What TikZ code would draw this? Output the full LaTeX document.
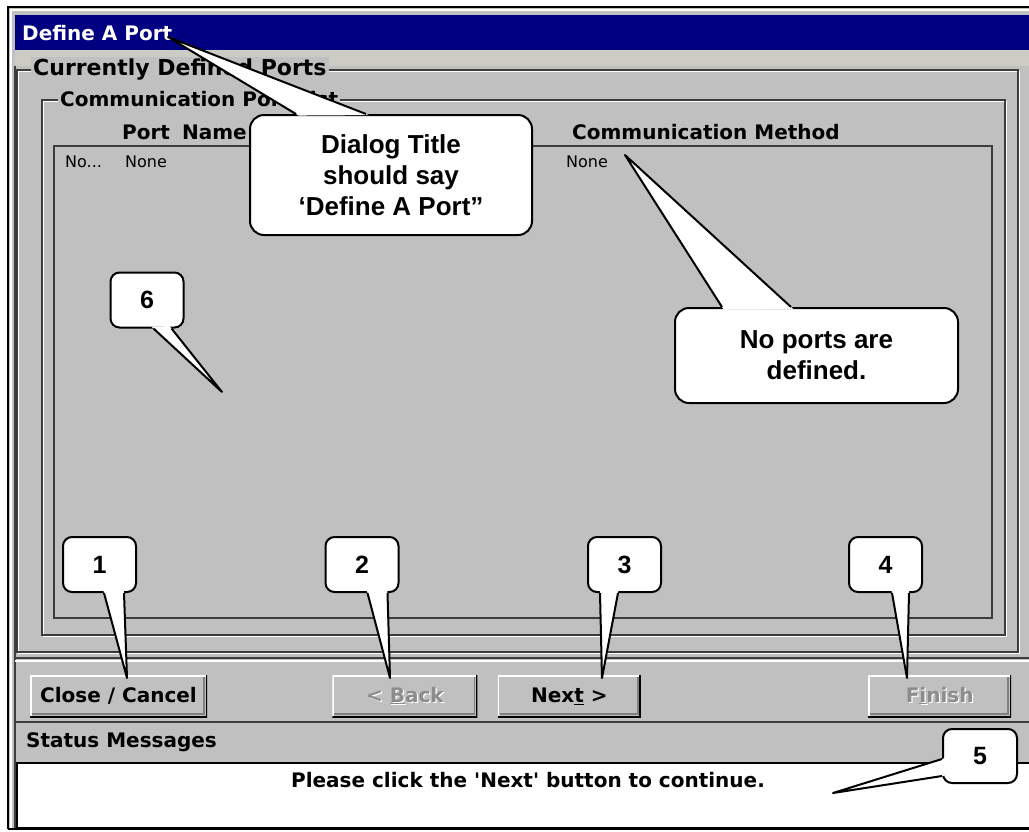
\documentclass[tikz,border=0pt]{standalone}
\usepackage{fontspec}
\setmainfont{Liberation Sans}
\newfontfamily\uifont{DejaVu Sans}
\usetikzlibrary{positioning, calc}

\definecolor{winbg}{HTML}{C0C0C0}
\definecolor{titleblue}{HTML}{000080}
\definecolor{stripbg}{HTML}{CDCCC4}
\definecolor{etchdark}{HTML}{3C3C3C}
\definecolor{greytext}{HTML}{8C8C8C}

% balloon tail: base point, base point, tip
\newcommand{\tail}[3]{%
  \fill[white] ($(#1)!-3pt!(#3)$) -- (#3) -- ($(#2)!-3pt!(#3)$) -- cycle;
  \draw[tailline] (#1) -- (#3) -- (#2);}
% etched frame: x1, y1, x2, y2
\newcommand{\etched}[4]{%
  \draw[white, line width=1.5pt] (#1+1.5,#2+1.5) rectangle (#3+1.5,#4+1.5);
  \draw[etchdark, line width=1.5pt] (#1,#2) rectangle (#3,#4);}
\newcommand{\greyed}[1]{\makebox[0pt][l]{\hspace{1.2pt}\raisebox{-1.2pt}{\color{white}#1}}{\color{greytext}#1}}

\begin{document}
\begin{tikzpicture}[x=1pt, y=-1pt,
  balloon/.style={draw, line width=2pt, fill=white, rounded corners=14pt, inner sep=0pt,
    align=center, font=\fontsize{26}{31}\selectfont\bfseries},
  numbox/.style={balloon, rounded corners=9pt, minimum width=73pt, minimum height=55pt,
    font=\fontsize{25}{30}\selectfont\bfseries},
  tailline/.style={line width=2pt, line join=round},
  ui/.style={inner sep=0pt, font=\uifont\fontsize{20}{24}\selectfont\bfseries},
  uilabel/.style={ui, fill=winbg, inner sep=2pt, anchor=west},
  listtext/.style={inner sep=0pt, anchor=west, font=\uifont\fontsize{16}{19}\selectfont},
  btn/.style={ui, fill=winbg, minimum height=42pt, path picture={
    \draw[white, line width=3pt] (path picture bounding box.south west)
      -- (path picture bounding box.north west) -- (path picture bounding box.north east);
    \draw[black, line width=3pt] (path picture bounding box.south west)
      -- (path picture bounding box.south east) -- (path picture bounding box.north east);
    \draw[gray, line width=1.5pt] ([shift={(2pt,3pt)}]path picture bounding box.south west)
      -- ([shift={(-3pt,3pt)}]path picture bounding box.south east)
      -- ([shift={(-3pt,-2pt)}]path picture bounding box.north east);}},
]
\useasboundingbox (0,0) rectangle (1029,831);
\clip (0,0) rectangle (1029,831);
\fill[white] (0,0) rectangle (1029,831);

% window frame and title bar
\fill[winbg] (8,7) rectangle (1045,829);
\draw[black, line width=2pt] (8,829) -- (8,7) -- (1045,7);
\draw[white, line width=1.5pt] (11,829) -- (11,10) -- (1045,10);
\draw[etchdark, line width=1.5pt] (15,66) -- (15,829);
\draw[black, line width=1.5pt] (8,829) -- (1045,829);
\fill[titleblue] (15,15) rectangle (1045,50);
\fill[stripbg] (15,50) rectangle (1045,66);
\node[ui, white, anchor=west] (title) at (22,33) {Define A Port};

% group boxes
\etched{17}{70}{1018}{652}
\node[uilabel, font=\uifont\fontsize{22}{26}\selectfont\bfseries] (defports) at (31,70) {Currently Defined Ports};
\etched{42}{100}{1005}{635}
\node[uilabel] (portlist) at (58,99) {Communication Port List};
\node[ui, anchor=west] (colname) at (122,132) {Port\hspace{0.6em}Name};
\node[ui, anchor=west] (colmethod) at (572,132) {Communication Method};

% list
\draw[etchdark, line width=1.5pt] (54,146) rectangle (992,618);
\node[listtext] (rowid) at (65,162) {No...};
\node[listtext] (rowname) at (125,162) {None};
\node[listtext] (rowmethod) at (566,162) {None};

% button row
\draw[etchdark, line width=1.5pt] (15,658) -- (1045,658);
\draw[white, line width=1.5pt] (15,661) -- (1045,661);
\node[btn, minimum width=177pt] (close) at (118.5,696) {Close / Cancel};
\node[btn, minimum width=145pt, right=125pt of close] (back) {\greyed{<\ \underline{B}ack}};
\node[btn, minimum width=143pt, right=20pt of back] (next) {Nex\underline{t} >};
\node[btn, minimum width=143pt, right=227pt of next] (finish) {\greyed{F\underline{i}nish}};

% status area
\draw[etchdark, line width=1.5pt] (15,722) -- (1045,722);
\node[ui, anchor=west] (statlabel) at (26,742) {Status Messages};
\draw[black, line width=1.5pt, fill=white] (17,763) rectangle (1050,828);
\node[ui] (statmsg) at (528,780) {Please click the \textquotesingle Next\textquotesingle\ button to continue.};

% callouts
\node[balloon, minimum width=282pt, minimum height=120pt] (titlenote) at (391,175)
  {Dialog Title\\should say\\‘Define A Port”};
\coordinate (titletip) at (168,37);
\coordinate (titlea) at ($(titlenote.north west)+(47,0)$);
\coordinate (titleb) at ($(titlenote.north west)+(117,0)$);
\tail{titlea}{titleb}{titletip}

\node[balloon, minimum width=283pt, minimum height=95pt] (portsnote) at (816.5,355.5)
  {No ports are\\defined.};
\coordinate (portstip) at (625,155);
\coordinate (portsa) at ($(portsnote.north west)+(48,0)$);
\coordinate (portsb) at ($(portsnote.north west)+(117,0)$);
\tail{portsa}{portsb}{portstip}

\node[numbox] (num6) at (147,300) {6};
\coordinate (tip6) at (222,392);
\coordinate (num6a) at ($(num6.south west)+(44,0)$);
\coordinate (num6b) at ($(num6.south west)+(62,0)$);
\tail{num6a}{num6b}{tip6}

\foreach \n/\cx/\ba/\bb/\tx in {1/99.5/42/62/127, 2/362/43/63/390, 3/624.5/13/31/602, 4/885.5/44/61/907}{
  \node[numbox] (num\n) at (\cx,564.5) {\n};
  \coordinate (tip\n) at (\tx,678);
  \coordinate (num\n a) at ($(num\n.south west)+(\ba,0)$);
  \coordinate (num\n b) at ($(num\n.south west)+(\bb,0)$);
  \tail{num\n a}{num\n b}{tip\n}
}

\node[numbox, minimum width=74pt, minimum height=54pt] (num5) at (980,756) {5};
\coordinate (tip5) at (833,793);
\coordinate (num5a) at ($(num5.north west)+(0,31)$);
\coordinate (num5b) at ($(num5.north west)+(0,48)$);
\tail{num5a}{num5b}{tip5}
\end{tikzpicture}
\end{document}
